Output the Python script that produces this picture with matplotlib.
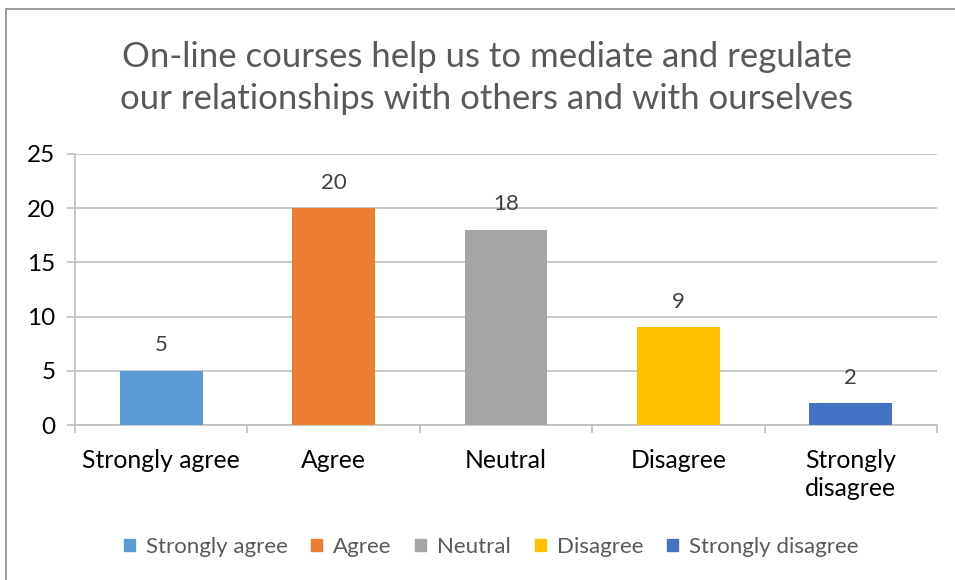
import numpy as np
import matplotlib
matplotlib.use('Agg')
import matplotlib.pyplot as plt
from matplotlib.patches import Rectangle

# Data
categories = ['Strongly agree', 'Agree', 'Neutral', 'Disagree', 'Strongly disagree']
tick_labels = ['Strongly agree', 'Agree', 'Neutral', 'Disagree', 'Strongly\ndisagree']
values = [5, 20, 18, 9, 2]
colors = ['#5B9BD5', '#ED7D31', '#A5A5A5', '#FFC000', '#4472C4']
title = 'On-line courses help us to mediate and regulate\nour relationships with others and with ourselves'

plt.rcParams['font.family'] = ['Lato', 'DejaVu Sans']

fig = plt.figure(figsize=(9.55, 5.8), dpi=100)
ax = fig.add_axes([75 / 955, 1 - 425 / 580, (937 - 75) / 955, (425 - 154) / 580])

# chart border (left and top visible)
fig.add_artist(Rectangle((6 / 955, -0.01), 1.0, 1 - 9 / 580 + 0.01, transform=fig.transFigure,
                         fill=False, edgecolor='#8c8c8c', linewidth=1.2))

x = np.arange(len(categories))
bars = ax.bar(x, values, width=0.48, color=colors, zorder=3)

for xi, v in zip(x, values):
    ax.annotate(str(v), (xi, v), xytext=(0, 18.5), textcoords='offset points',
                ha='center', va='center', fontsize=16, color='#404040')

ax.set_xlim(-0.5, len(categories) - 0.5)
ax.set_ylim(0, 25)
ax.set_yticks(range(0, 26, 5))
ax.set_xticks(x)
ax.set_xticklabels(tick_labels, fontsize=17.8, color='black', linespacing=1.3)
ax.tick_params(axis='y', labelsize=17.5, colors='#bfbfbf', labelcolor='black', length=6, width=1.2, pad=8)
ax.tick_params(axis='x', length=0, pad=17)

# category boundary ticks
ax.set_xticks(np.arange(-0.5, len(categories)), minor=True)
ax.tick_params(axis='x', which='minor', length=6, width=1.2, colors='#bfbfbf')

ax.grid(axis='y', color='#bfbfbf', linewidth=1.2, zorder=0)
for s in ['top', 'right']:
    ax.spines[s].set_visible(False)
ax.spines['left'].set_color('#bfbfbf')
ax.spines['bottom'].set_color('#bfbfbf')
ax.spines['left'].set_linewidth(1.2)
ax.spines['bottom'].set_linewidth(1.2)

fig.text(487 / 955, 1 - 78 / 580, title, ha='center', va='center', fontsize=25,
         color='#595959', linespacing=1.4)

handles = [Rectangle((0, 0), 1, 1, color=c) for c in colors]
fig.legend(handles, categories, loc='center', bbox_to_anchor=(491 / 955, 1 - 547 / 580),
           ncol=5, frameon=False, fontsize=16, labelcolor='#595959',
           handlelength=0.5, handleheight=0.5, handletextpad=0.5, columnspacing=1.05)

fig.savefig('out.png', dpi=100)
